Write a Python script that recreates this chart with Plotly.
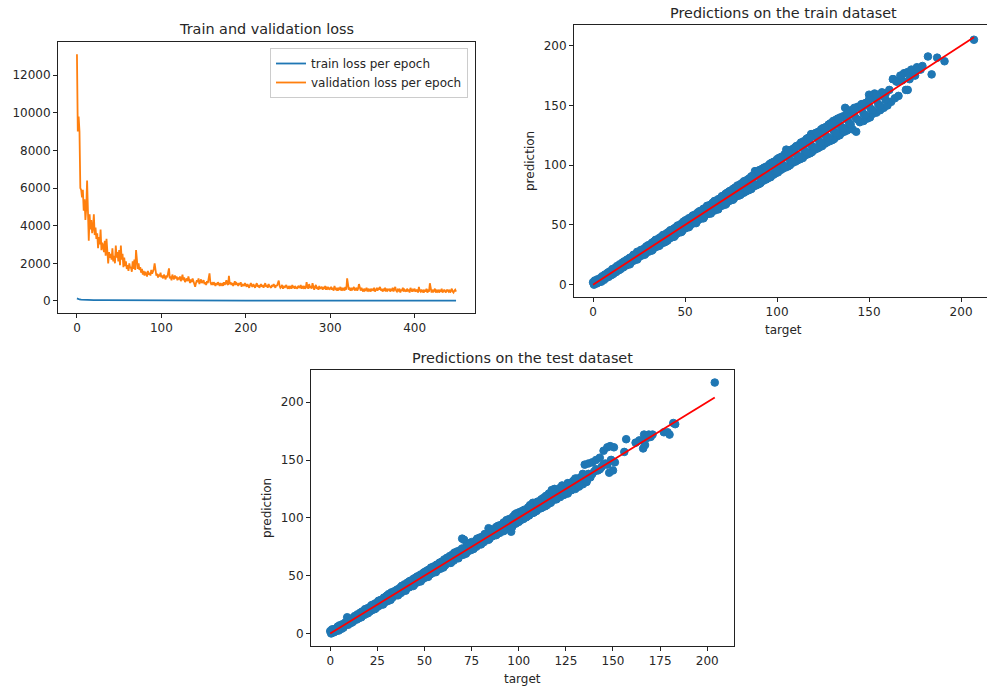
import plotly.graph_objects as go

W, H = 987, 689

# ---------------- data ----------------
epochs = list(range(450))
train_loss_epochs = [0, 1, 2, 3, 5, 8, 12, 20, 30, 50, 80, 120, 200, 300, 449]
train_loss = [140, 110, 90, 80, 70, 60, 55, 48, 42, 36, 30, 26, 22, 19, 16]
val_loss = [
    13100, 9000, 9800, 9000, 6000, 5900, 5500, 5900, 4800, 5400,
    4300, 4900, 6400, 3900, 3200, 4600, 3800, 4300, 3600, 3900,
    4600, 3500, 3900, 3300, 3600, 2800, 3400, 3000, 3800, 2700,
    3100, 2900, 2600, 3200, 2400, 3300, 2700, 2000, 2600, 2300,
    2500, 2200, 2800, 2100, 2400, 2000, 2950, 2300, 2600, 2100,
    2700, 1900, 2950, 2200, 2500, 1800, 2300, 1850, 2100, 1700,
    1900, 1600, 2000, 1750, 1800, 1550, 2100, 1700, 2200, 1650,
    2700, 1900, 1700, 2000, 1650, 1800, 1500, 1700, 1400, 1600,
    1350, 1550, 1450, 1300, 1600, 1400, 1500, 1350, 1650, 1450,
    1550, 1700, 2000, 1500, 1350, 1450, 1250, 1400, 1300, 1500,
    1250, 1350, 1200, 1400, 1300, 1150, 1350, 1250, 1500, 1730,
    1200, 1300, 1100, 1400, 1250, 1150, 1350, 1200, 1300, 1100,
    1250, 1150, 1300, 1050, 1200, 1400, 1100, 1250, 1000, 1150,
    1200, 1050, 1300, 1100, 950, 1150, 1000, 1200, 1050, 900,
    760, 950, 1100, 1000, 1200, 900, 1050, 1150, 950, 1000,
    1100, 900, 1000, 850, 1050, 950, 1200, 1470, 1000, 900,
    950, 850, 1000, 900, 800, 950, 850, 1000, 900, 800,
    950, 850, 900, 800, 1000, 850, 950, 1100, 900, 850,
    1330, 900, 1000, 850, 950, 800, 900, 1050, 850, 950,
    900, 800, 950, 850, 1000, 750, 900, 850, 800, 950,
    850, 750, 900, 800, 700, 850, 950, 800, 750, 900,
    800, 700, 850, 950, 750, 850, 700, 800, 900, 750,
    850, 700, 800, 950, 750, 850, 700, 900, 800, 750,
    700, 850, 800, 900, 750, 700, 850, 800, 950, 1080,
    800, 700, 750, 850, 650, 800, 700, 750, 850, 700,
    650, 800, 700, 750, 650, 850, 700, 800, 650, 750,
    700, 650, 800, 750, 700, 850, 650, 750, 700, 800,
    650, 700, 1000, 750, 650, 900, 700, 800, 650, 950,
    700, 600, 750, 850, 650, 700, 600, 800, 650, 700,
    750, 600, 700, 650, 800, 600, 750, 650, 700, 600,
    650, 750, 600, 700, 550, 800, 650, 600, 700, 550,
    650, 600, 750, 550, 700, 600, 650, 550, 750, 600,
    1200, 700, 600, 650, 550, 700, 600, 650, 750, 550,
    600, 700, 550, 650, 900, 600, 550, 700, 600, 500,
    650, 550, 600, 700, 500, 650, 550, 600, 500, 650,
    600, 550, 700, 500, 600, 650, 550, 700, 600, 750,
    550, 650, 500, 600, 550, 700, 500, 650, 550, 600,
    650, 500, 600, 550, 700, 500, 600, 750, 550, 500,
    600, 550, 650, 450, 600, 550, 700, 500, 600, 550,
    500, 650, 550, 600, 450, 700, 550, 500, 600, 550,
    650, 500, 550, 600, 450, 750, 550, 500, 600, 500,
    550, 450, 600, 500, 650, 450, 550, 500, 940, 550,
    450, 600, 500, 550, 650, 450, 550, 500, 600, 450,
    550, 500, 650, 450, 550, 600, 500, 450, 600, 550,
    500, 600, 450, 550, 650, 500, 450, 550, 600, 500,
]

train_target = [
    0, 0.5, 1, 2, 2.5, 3, 4, 4.5, 5, 6,
    6.5, 7, 8, 8.5, 9, 10, 10.5, 11, 12, 12.5,
    13, 14, 14.5, 15, 16, 16.5, 17, 18, 18.5, 19,
    20, 20.5, 21, 22, 22.5, 23, 24, 24.5, 25, 26,
    26.5, 27, 28, 28.5, 29, 30, 30.5, 31, 32, 32.5,
    33, 34, 34.5, 35, 36, 36.5, 37, 38, 38.5, 39,
    40, 40.5, 41, 42, 42.5, 43, 44, 44.5, 45, 46,
    46.5, 47, 48, 48.5, 49, 50, 50.5, 51, 52, 52.5,
    53, 54, 54.5, 55, 56, 56.5, 57, 58, 58.5, 59,
    60, 60.5, 61, 62, 62.5, 63, 64, 64.5, 65, 66,
    66.5, 67, 68, 68.5, 69, 70, 70.5, 71, 72, 72.5,
    73, 74, 74.5, 75, 76, 76.5, 77, 78, 78.5, 79,
    80, 80.5, 81, 82, 82.5, 83, 84, 84.5, 85, 86,
    86.5, 87, 88, 88.5, 89, 90, 90.5, 91, 92, 92.5,
    93, 94, 94.5, 95, 96, 96.5, 97, 98, 98.5, 99,
    100, 100.5, 101, 102, 102.5, 103, 104, 104.5, 105, 106,
    106.5, 107, 108, 108.5, 109, 110, 110.5, 111, 112, 112.5,
    113, 114, 114.5, 115, 116, 116.5, 117, 118, 118.5, 119,
    120, 120.5, 121, 122, 122.5, 123, 124, 124.5, 125, 126,
    126.5, 127, 128, 128.5, 129, 130, 130.5, 131, 132, 132.5,
    133, 134, 134.5, 135, 136, 136.5, 137, 138, 138.5, 139,
    140, 141, 142, 143, 144, 145, 146, 147, 148, 149,
    150, 150.5, 151, 152, 153, 154, 155, 156, 157, 158,
    159, 160, 161, 162, 163, 164, 165, 166, 168, 170,
    171, 172, 174, 175, 176, 178, 182, 184, 187, 191,
    163, 165, 167, 169, 171, 173, 176, 179, 207,
    1, 3, 5, 7, 9, 11, 13, 15, 17, 19,
    21, 23, 25, 27, 29, 31, 33, 35, 37, 39,
    41, 43, 45, 47, 49, 51, 53, 55, 57, 59,
    61, 63, 65, 67, 69, 71, 73, 75, 77, 79,
    81, 83, 85, 87, 89, 91, 93, 95, 97, 99,
    101, 103, 105, 107, 109, 111, 113, 115, 117, 119,
    121, 123, 125, 127, 129, 131, 133, 135, 137, 139,
    141, 143, 145, 147, 149, 151, 153, 155, 157, 159,
    82, 86, 90, 94, 98, 102, 106, 110, 114, 118,
    122, 126, 130, 134, 138, 142, 146, 150, 154, 158,
    20, 24, 28, 32, 36, 40, 44, 48, 52, 56,
    60, 64, 68, 72, 76, 80, 84, 88, 92, 96,
    100, 104, 108, 112, 116, 120, 124, 128, 132, 136,
    140, 144, 148, 152, 156,
    22, 26, 30, 34, 38, 42, 46, 50, 54, 58,
    62, 66, 70, 74, 78, 82, 86, 90, 94, 98,
    102, 106, 110, 114, 118, 122, 126, 130, 134, 138,
    142, 146, 150, 154,
]
train_pred = [
    2, 0, 3.5, 1, 4.5, 2, 5.5, 2.5, 7, 4,
    8.5, 5.5, 10, 6.5, 11, 8, 13, 9, 14, 10.5,
    15.5, 12, 17, 13, 18.5, 14.5, 19.5, 16, 21, 17,
    22.5, 18.5, 23, 20, 25, 21, 27.5, 22.5, 27, 24,
    29, 25, 30.5, 26, 32, 27.5, 33, 28.5, 35, 29.5,
    36, 31.5, 37.5, 32, 39, 33.5, 40, 35, 41.5, 35.5,
    43, 37, 44, 39, 45.5, 40, 47, 41, 48, 43,
    49.5, 44, 51, 45, 52.5, 47, 54, 48, 55.5, 49,
    56, 51, 58, 52, 59, 53, 60.5, 55, 61.5, 55.5,
    63.5, 57, 64, 59, 66, 59.5, 67, 61, 68.5, 62,
    70, 63, 71.5, 65, 72, 66, 74, 67, 76, 68,
    77, 70, 78.5, 71, 80, 72, 81, 74, 83, 74.5,
    84, 76, 85, 77, 86.5, 78, 88, 79, 89, 80,
    91, 82, 95, 83, 93, 84, 96, 85, 97, 87,
    98, 88, 99, 89, 101, 90, 102, 92, 103, 93,
    105, 94, 106, 96, 107, 97, 109, 98, 113, 99,
    112, 100, 113, 102, 114, 103, 116, 104, 117, 105,
    119, 106, 120, 108, 122, 109, 123, 110, 126, 111,
    126, 113, 127, 114, 128, 115, 130, 116, 131, 118,
    132, 119, 134, 120, 135, 121, 137, 122, 138, 124,
    139, 125, 140, 127, 141, 128, 148, 129, 144, 131,
    146, 130, 148, 128, 149, 136, 151, 137, 152, 139,
    159, 140, 157, 143, 160, 144, 158, 146, 161, 148,
    160, 150, 163, 153, 172, 156, 170, 158, 171, 163,
    163, 172, 176, 175, 180, 180, 191, 176, 190, 187,
    172, 170, 175, 177, 178, 180, 182, 183, 205,
    1.5, 2, 5.5, 6, 9.5, 10.5, 13.5, 14, 17.5, 18.5,
    21.5, 22.5, 26, 26, 29.5, 30, 34, 34, 37.5, 38,
    42, 42, 45.5, 46, 50, 50, 54, 54, 58, 58,
    62, 62, 66, 66, 70.5, 69.5, 74.5, 73.5, 78.5, 77.5,
    83, 81, 87, 85, 91, 89, 95, 93, 99, 97,
    103, 100.5, 107.5, 104.5, 111.5, 108.5, 116, 112, 120, 116,
    124, 120, 128, 124, 132, 128, 136, 132, 140, 136,
    144, 139, 148, 143, 152, 147, 156, 151, 160, 155,
    82.5, 85.5, 90.5, 93.5, 98.5, 101.5, 106.5, 109.5, 114.5, 117.5,
    122.5, 125.5, 130.5, 133.5, 138.5, 141.5, 146.5, 149.5, 154.5, 157.5,
    17, 21, 25, 28.5, 32.5, 36.5, 40, 44, 48, 51.5,
    55.5, 59.5, 63, 67, 71, 75, 79, 83, 87, 90.5,
    95, 99, 103, 107, 111, 115, 119, 123, 127, 131,
    134, 138, 142, 146, 150,
    25, 29, 33, 37.5, 41.5, 45.5, 49.5, 53.5, 57.5, 61.5,
    66, 70, 74, 78, 82, 86.5, 90.5, 94.5, 98.5, 102.5,
    106.5, 111, 115, 119, 123, 127, 131, 135, 139, 143,
    147, 151, 155, 159,
]

test_target = [
    0, 0.5, 1, 2, 2.5, 3, 4, 4.5, 5, 6,
    6.5, 7, 8, 9, 9.5, 10, 11, 11.5, 12, 13,
    14, 14.5, 15, 16, 16.5, 17, 18, 18.5, 19, 20,
    21, 21.5, 22, 23, 23.5, 24, 25, 25.5, 26, 27,
    28, 28.5, 29, 30, 30.5, 31, 32, 32.5, 33, 34,
    35, 35.5, 36, 37, 37.5, 38, 39, 39.5, 40, 41,
    42, 42.5, 43, 44, 44.5, 45, 46, 46.5, 47, 48,
    49, 49.5, 50, 51, 51.5, 52, 53, 53.5, 54, 55,
    56, 56.5, 57, 58, 58.5, 59, 60, 60.5, 61, 62,
    63, 63.5, 64, 65, 65.5, 66, 67, 67.5, 68, 69,
    70, 70.5, 71, 72, 72.5, 73, 74, 74.5, 75, 76,
    77, 77.5, 78, 79, 79.5, 80, 81, 81.5, 82, 83,
    84, 84.5, 85, 86, 86.5, 87, 88, 88.5, 89, 90,
    91, 91.5, 92, 93, 93.5, 94, 95, 96, 96.5, 97,
    98, 98.5, 99, 100, 100.5, 101, 102, 102.5, 103, 104,
    105, 105.5, 106, 107, 107.5, 108, 109, 109.5, 110, 111,
    112, 112.5, 113, 114, 114.5, 115, 116, 117, 117.5, 118,
    119, 120, 121, 122, 123, 124, 125, 126, 127, 128,
    129, 130, 131, 132, 133, 134, 135, 136, 137, 138,
    139, 140, 141, 142, 143, 144, 145, 146, 147, 148,
    148.5, 149, 150, 150.5, 151, 156, 157, 162, 164, 166,
    166.5, 167, 168, 169, 170, 171, 177, 179, 180, 182,
    183, 204,
    1, 3, 5, 7, 9, 11, 13, 15, 17, 19,
    21, 23, 25, 27, 29, 31, 33, 35, 37, 39,
    41, 43, 45, 47, 49, 51, 53, 55, 57, 59,
    61, 63, 65, 67, 69, 71, 73, 75, 77, 79,
    81, 83, 85, 87, 89, 91, 93, 95, 97, 99,
    101, 103, 105, 107, 109, 111, 113, 115, 117, 119,
    121, 123, 125, 127, 129, 131, 133, 135, 137, 139,
    141, 143, 145, 147, 149,
    20, 24, 28, 32, 36, 40, 44, 48, 52, 56,
    60, 64, 68, 72, 76, 80, 84, 88, 92, 96,
    100, 104, 108, 112, 116, 120, 124, 128, 132, 136,
    22, 26, 30, 34, 38, 42, 46, 50, 54, 58,
    62, 66, 70, 74, 78, 82, 86, 90, 94, 98,
    102, 106, 110, 114, 118, 122, 126, 130, 134,
]
test_pred = [
    2, 0, 3.5, 1, 4, 2, 6, 2.5, 7, 4,
    8, 5, 9.5, 14, 7.5, 11, 9, 13, 10, 15,
    12, 16.5, 13, 18, 14, 19, 16, 21, 17, 22,
    19, 23.5, 20, 25, 21, 26, 23, 28, 24, 29,
    26, 31, 27, 32.5, 28, 34, 30, 35.5, 31, 36,
    33, 38, 34, 39.5, 35, 41, 37, 42.5, 38, 44,
    40, 45.5, 41, 47, 42, 48, 44, 49.5, 45, 51,
    47, 52.5, 48, 54, 49, 55, 51, 57, 52, 58,
    54, 59.5, 55, 61, 56, 62, 58, 64, 59, 65.5,
    61, 67, 62, 68.5, 63, 70, 65, 71, 66, 72,
    82, 68, 81, 70, 76, 71, 78, 72, 79, 74,
    80, 75, 82, 77, 83, 78, 84, 79, 86, 81,
    91, 82, 90, 84, 89, 85, 92, 86, 93, 87,
    94, 89, 96, 90, 98, 91, 99, 88, 92, 101,
    103, 95, 104, 97, 105, 98, 106, 99, 107, 101,
    109, 102, 111, 104, 113, 105, 112, 106, 114, 108,
    116, 109, 117, 110, 119, 111, 121, 113, 124, 115,
    125, 116, 122, 118, 128, 120, 127, 121, 130, 124,
    132, 125, 134, 127, 135, 129, 146, 131, 147, 135,
    148, 140, 150, 141, 152, 144, 158, 147, 161, 139,
    162, 150, 141, 161, 148, 157, 168, 165, 167, 160,
    172, 163, 169, 172, 170, 172, 174, 174, 172, 182,
    181, 217,
    1.5, 3, 5.5, 6.5, 9.5, 10.5, 13.5, 14.5, 17.5, 18.5,
    21.5, 22.5, 25.5, 26.5, 29.5, 30.5, 33.5, 34.5, 37.5, 38.5,
    41.5, 42.5, 45.5, 46.5, 49.5, 50.5, 53.5, 54.5, 57.5, 58.5,
    61.5, 62.5, 65.5, 66.5, 69.5, 70.5, 73.5, 74.5, 77.5, 78.5,
    82, 82, 86, 86, 90, 90, 94, 94, 98, 98,
    102, 102, 106, 106, 110, 110, 114, 114, 118, 118,
    122, 122, 126, 126, 130, 130, 134, 134, 138, 138,
    142, 142, 146, 146, 150,
    17.5, 21.5, 25, 29, 33, 37, 41, 45, 49, 53,
    57, 61, 65, 69, 73, 77, 81, 85, 88.5, 92.5,
    96.5, 100.5, 104.5, 108.5, 112.5, 116.5, 120, 124, 128, 132,
    24.5, 28.5, 32.5, 36.5, 41, 45, 49, 53, 57, 61,
    65, 69, 73.5, 77.5, 81.5, 85.5, 89.5, 93.5, 97.5, 101.5,
    105.5, 109.5, 113.5, 118, 122, 126, 130, 134, 138,
]

train_line = [min(train_target), max(train_target)]
test_line = [min(test_target), max(test_target)]

# ---------------- styling ----------------
C0 = "#1f77b4"
C1 = "#ff7f0e"
RED = "#ff0000"
AX = "#222222"
FONT = "DejaVu Sans"


def pad(lo, hi, f=0.05):
    m = (hi - lo) * f
    return [lo - m, hi + m]


def px(x):
    return x / W


def py(y):
    return 1 - y / H


fig = go.Figure()

fig.add_trace(go.Scatter(x=train_loss_epochs, y=train_loss, mode="lines",
                         line=dict(color=C0, width=1.8),
                         name="train loss per epoch", xaxis="x", yaxis="y"))
fig.add_trace(go.Scatter(x=epochs, y=val_loss, mode="lines",
                         line=dict(color=C1, width=1.8),
                         name="validation loss per epoch", xaxis="x", yaxis="y"))

fig.add_trace(go.Scatter(x=train_target, y=train_pred, mode="markers",
                         marker=dict(color=C0, size=7.6, line=dict(color=C0, width=1)),
                         showlegend=False, xaxis="x2", yaxis="y2"))
fig.add_trace(go.Scatter(x=train_line, y=train_line, mode="lines",
                         line=dict(color=RED, width=1.8),
                         showlegend=False, xaxis="x2", yaxis="y2"))

fig.add_trace(go.Scatter(x=test_target, y=test_pred, mode="markers",
                         marker=dict(color=C0, size=7.6, line=dict(color=C0, width=1)),
                         showlegend=False, xaxis="x3", yaxis="y3"))
fig.add_trace(go.Scatter(x=test_line, y=test_line, mode="lines",
                         line=dict(color=RED, width=1.8),
                         showlegend=False, xaxis="x3", yaxis="y3"))

# axis ranges (matplotlib-like 5% margins)
r1x = pad(min(epochs), max(epochs))
r1y = pad(min(min(train_loss), min(val_loss)), max(max(train_loss), max(val_loss)))
r2x_full = pad(min(train_target), max(train_target))
r2x = [r2x_full[0], r2x_full[0] + (r2x_full[1] - r2x_full[0]) * 413 / 419]
r2y = pad(min(min(train_pred), train_line[0]), max(max(train_pred), train_line[1]))
r3x = pad(min(test_target), max(test_target))
r3y = pad(min(min(test_pred), test_line[0]), max(max(test_pred), test_line[1]))

common = dict(showgrid=False, zeroline=False, showline=True, linecolor=AX,
              linewidth=1, ticks="outside", ticklen=4, tickwidth=1, tickcolor=AX,
              tickformat="d",
              tickfont=dict(family=FONT, size=12, color="#262626"))

fig.update_layout(
    width=W, height=H,
    margin=dict(l=0, r=0, t=0, b=0),
    paper_bgcolor="white", plot_bgcolor="white",
    font=dict(family=FONT, size=12, color="#262626"),
    xaxis=dict(domain=[px(58), px(475)], range=r1x, anchor="y",
               tickvals=[0, 100, 200, 300, 400], mirror=True, **common),
    yaxis=dict(domain=[py(313), py(42)], range=r1y, anchor="x",
               tickvals=[0, 2000, 4000, 6000, 8000, 10000, 12000], mirror=True, **common),
    xaxis2=dict(domain=[px(574), 1.0], range=r2x, anchor="y2",
                tickvals=[0, 50, 100, 150, 200], mirror=True, **common),
    yaxis2=dict(domain=[py(297), py(25)], range=r2y, anchor="x2",
                tickvals=[0, 50, 100, 150, 200], mirror=False, **common),
    xaxis3=dict(domain=[px(311), px(734)], range=r3x, anchor="y3",
                tickvals=[0, 25, 50, 75, 100, 125, 150, 175, 200], mirror=True, **common),
    yaxis3=dict(domain=[py(646), py(370)], range=r3y, anchor="x3",
                tickvals=[0, 50, 100, 150, 200], mirror=True, **common),
    legend=dict(x=px(468), y=py(48), xanchor="right", yanchor="top",
                bgcolor="rgba(255,255,255,0.8)", bordercolor="#cccccc", borderwidth=1,
                font=dict(family=FONT, size=12, color="#262626"),
                itemwidth=30, tracegroupgap=0),
    showlegend=True,
)

ann = []


def text(x, y, s, size=12, angle=0):
    ann.append(dict(x=px(x), y=py(y), xref="paper", yref="paper", text=s,
                    showarrow=False, xanchor="center", yanchor="middle",
                    textangle=angle, font=dict(family=FONT, size=size, color="#262626")))


text(266.5, 29, "Train and validation loss", 14.4)
text(783.5, 13, "Predictions on the train dataset", 14.4)
text(522.5, 358, "Predictions on the test dataset", 14.4)
text(783.5, 330, "target")
text(530, 161, "prediction", angle=-90)
text(522.5, 679, "target")
text(267, 508, "prediction", angle=-90)
fig.update_layout(annotations=ann)

fig.write_html("out.html")
